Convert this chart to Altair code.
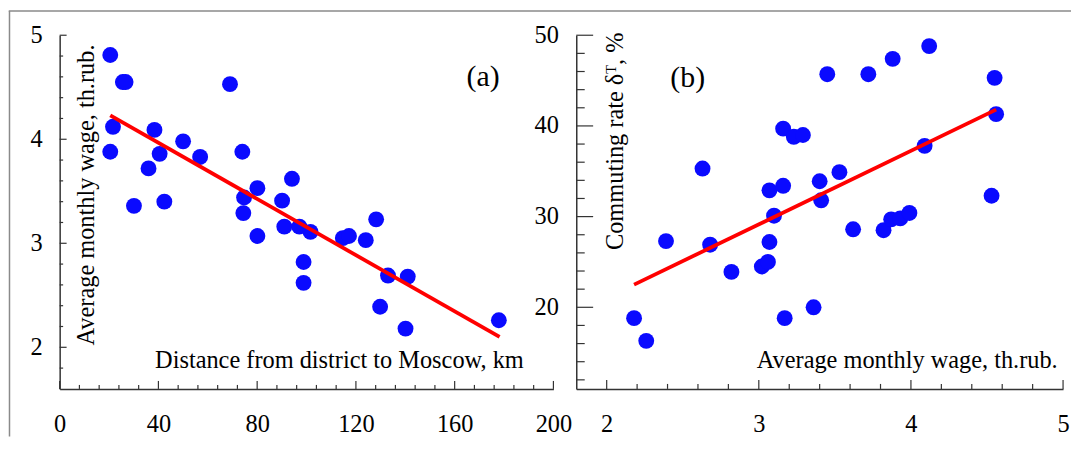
import altair as alt
import pandas as pd
import numpy as np

# ---------------- data ----------------
# Panel (a): distance to Moscow (km) vs average monthly wage (th.rub.)
distance_km = [20.5, 25.6, 26.7, 69.0, 21.6, 20.5, 38.4, 40.5, 36.0, 30.1, 42.4, 50.0,
               56.9, 74.0, 74.7, 74.4, 80.1, 80.1, 94.1, 90.1, 91.0, 97.1, 101.6, 98.8,
               98.8, 114.7, 117.2, 124.0, 128.2, 133.0, 141.0, 129.8, 140.1, 177.9]
wage_a = [4.81, 4.55, 4.55, 4.53, 4.12, 3.88, 4.09, 3.86, 3.72, 3.36, 3.40, 3.98,
          3.83, 3.88, 3.44, 3.29, 3.53, 3.07, 3.62, 3.41, 3.16, 3.16, 3.11, 2.82,
          2.62, 3.05, 3.07, 3.03, 3.23, 2.69, 2.68, 2.39, 2.18, 2.26]

# Panel (b): average monthly wage (th.rub.) vs commuting rate (%)
wage_b = [4.12, 3.88, 3.45, 3.72, 4.55, 4.56, 4.09, 3.16, 3.23, 3.29, 2.63, 3.53,
          3.40, 3.41, 3.07, 3.16, 3.10, 4.53, 3.62, 3.82, 3.87, 3.93, 3.99, 2.39,
          2.68, 3.07, 2.82, 3.02, 3.06, 3.36, 3.17, 2.18, 2.26]
commuting_rate = [48.8, 47.4, 45.7, 45.7, 45.3, 41.3, 37.8, 39.7, 38.8, 39.0, 35.3, 34.9,
                  33.9, 31.8, 32.9, 33.4, 30.1, 32.3, 28.6, 28.5, 29.7, 29.8, 30.4, 27.3,
                  26.9, 27.2, 23.9, 24.5, 25.0, 20.0, 18.8, 18.8, 16.3]

# Fitted lines (end points)
fit_a_x = [20.5, 178.2]
fit_a_y = [4.23, 2.10]
fit_b_x = [2.18, 4.56]
fit_b_y = [22.5, 41.8]

# Tick values
a_x_major = [0, 40, 80, 120, 160, 200]
a_y_major = [2, 3, 4, 5]
b_x_major = [2, 3, 4, 5]
b_y_major = [20, 30, 40, 50]
a_x_minor = [v for v in range(8, 200, 8) if v % 40]
a_y_minor = [round(v, 1) for v in np.arange(1.8, 4.85, 0.2) if abs(v - round(v)) > 1e-6]
b_x_minor = [round(v, 1) for v in np.arange(2.2, 4.85, 0.2) if abs(v - round(v)) > 1e-6]
b_y_minor = [v for v in range(12, 50, 2) if v % 10]

panel_labels = ["(a)", "(b)"]
title_a_x = "Distance from district to Moscow, km"
title_a_y = "Average monthly wage,  th.rub."
title_b_x = "Average monthly wage, th.rub."
title_b_y = "Commuting rate \u03b4\u1d40, %"

# ---------------- styling ----------------
FONT = "Liberation Serif"
BLUE = "#0a0aff"
RED = "#ff0000"
AXIS = "#333333"
FRAME = "#8a8a8a"
WA, HA = 497, 356
WB, HB = 490, 356


def axis(values, **kw):
    return alt.Axis(values=values, format="d", grid=False, ticks=False, tickSize=0,
                    labelFlush=False, labelOverlap=False,
                    domainColor=AXIS, domainWidth=1.5,
                    labelFont=FONT, labelFontSize=24.5, labelColor="black",
                    titleFont=FONT, titleFontSize=24.5, titleFontWeight="normal",
                    titleColor="black", **kw)


sc_ax = alt.Scale(domain=[0, 200], nice=False, zero=False)
sc_ay = alt.Scale(domain=[1.6, 5], nice=False, zero=False)
sc_bx = alt.Scale(domain=[1.8, 5], nice=False, zero=False)
sc_by = alt.Scale(domain=[11, 50], nice=False, zero=False)


def xticks(vals, sc, h, length):
    return alt.Chart(pd.DataFrame({"x": vals})).mark_rule(color=AXIS, strokeWidth=1.2).encode(
        x=alt.X("x:Q", scale=sc),
        y=alt.value(h), y2=alt.value(h - length))


def yticks(vals, sc, length):
    return alt.Chart(pd.DataFrame({"y": vals})).mark_rule(color=AXIS, strokeWidth=1.2).encode(
        y=alt.Y("y:Q", scale=sc),
        x=alt.value(0), x2=alt.value(length))


def label(text, x, y):
    return alt.Chart(alt.Data(values=[{"t": text}])).mark_text(
        font=FONT, fontSize=30, align="center", baseline="middle", color="black"
    ).encode(text="t:N", x=alt.value(x), y=alt.value(y))


def blank():
    return alt.Chart(alt.Data(values=[{}])).mark_rule(color=FRAME, strokeWidth=1.5)


# ---------------- panel (a) ----------------
df_a = pd.DataFrame({"x": distance_km, "y": wage_a})
fit_a = pd.DataFrame({"x": fit_a_x, "y": fit_a_y})

pts_a = alt.Chart(df_a).mark_circle(size=255, color=BLUE, opacity=1).encode(
    x=alt.X("x:Q", scale=sc_ax,
            axis=axis(a_x_major, labelPadding=24, title=title_a_x,
                      titleX=466.7, titleY=-21.8, titleAlign="right",
                      titleBaseline="alphabetic", titleAngle=0)),
    y=alt.Y("y:Q", scale=sc_ay,
            axis=axis(a_y_major, labelPadding=17.5, title=title_a_y,
                      titleX=34.4, titleY=311.7, titleAlign="left",
                      titleBaseline="alphabetic", titleAngle=270)),
)
line_a = alt.Chart(fit_a).mark_line(color=RED, strokeWidth=3.8).encode(
    x=alt.X("x:Q", scale=sc_ax), y=alt.Y("y:Q", scale=sc_ay))

frame_left = blank().encode(x=alt.value(-50.5), y=alt.value(-24.5), y2=alt.value(404))
frame_top = blank().encode(x=alt.value(-51.25), x2=alt.value(1018), y=alt.value(-24.5))

panel_a = alt.layer(
    pts_a,
    xticks(a_x_major, sc_ax, HA, 8), xticks(a_x_minor, sc_ax, HA, 4),
    yticks(a_y_major, sc_ay, 7), yticks(a_y_minor, sc_ay, 3.5),
    line_a, label(panel_labels[0], 426.2, 42.5),
    frame_left, frame_top,
).properties(width=WA, height=HA)

# ---------------- panel (b) ----------------
df_b = pd.DataFrame({"x": wage_b, "y": commuting_rate})
fit_b = pd.DataFrame({"x": fit_b_x, "y": fit_b_y})

pts_b = alt.Chart(df_b).mark_circle(size=255, color=BLUE, opacity=1).encode(
    x=alt.X("x:Q", scale=sc_bx,
            axis=axis(b_x_major, labelPadding=24, title=title_b_x,
                      titleX=484.1, titleY=-21.6, titleAlign="right",
                      titleBaseline="alphabetic", titleAngle=0)),
    y=alt.Y("y:Q", scale=sc_by,
            axis=axis(b_y_major, labelPadding=18, title=title_b_y,
                      titleX=46.7, titleY=215.7, titleAlign="left",
                      titleBaseline="alphabetic", titleAngle=270)),
)
line_b = alt.Chart(fit_b).mark_line(color=RED, strokeWidth=3.8).encode(
    x=alt.X("x:Q", scale=sc_bx), y=alt.Y("y:Q", scale=sc_by))

panel_b = alt.layer(
    pts_b,
    xticks(b_x_major, sc_bx, HB, 9), xticks(b_x_minor, sc_bx, HB, 5),
    yticks(b_y_major, sc_by, 17), yticks(b_y_minor, sc_by, 8.5),
    line_b, label(panel_labels[1], 112.2, 42.7),
).properties(width=WB, height=HB)

chart = alt.hconcat(panel_a, panel_b, spacing=23, bounds="flush").properties(
    padding=0, background="white"
).configure_view(stroke=None)

chart.save("out.html", embed_options={"renderer": "svg", "actions": False})
